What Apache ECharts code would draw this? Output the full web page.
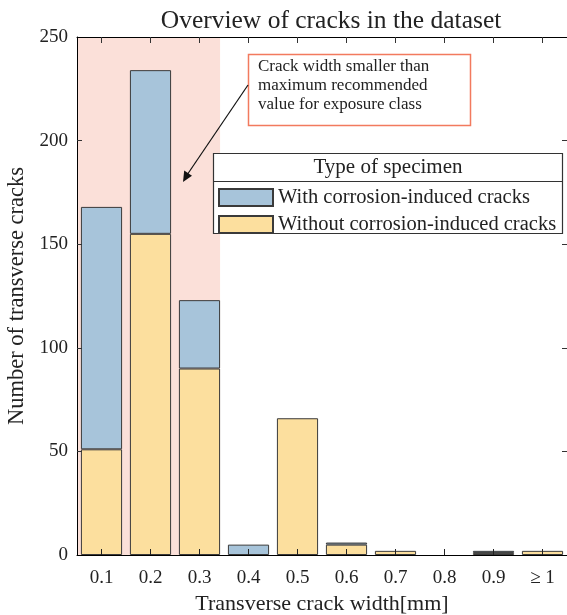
<!DOCTYPE html>
<html>
<head>
<meta charset="utf-8">
<script src="https://cdn.jsdelivr.net/npm/echarts@6/dist/echarts.min.js"></script>
<style>
html,body{margin:0;padding:0;background:#fff;}
#main{width:567px;height:615px;}
</style>
</head>
<body>
<div id="main"></div>
<script>
// ---- data ----
const categories = ['0.1','0.2','0.3','0.4','0.5','0.6','0.7','0.8','0.9','≥ 1'];
const withoutCorrosion = [51, 155, 90, 0, 66, 5, 2, 0, 1, 2];
const withCorrosion    = [117, 79, 33, 5, 0, 1, 0, 0, 1, 0];
const yTicks = [0, 50, 100, 150, 200, 250];
const highlightRange = [-0.5, 2.42]; // category-index units (to right edge of 0.3 bar)

const FONT = 'Liberation Serif';
const INK = '#222';
const EDGE = '#3a3a3a';
const noZero = arr => arr.map(v => v === 0 ? '-' : v);

const chart = echarts.init(document.getElementById('main'), null, {renderer: 'canvas'});

const option = {
  animation: false,
  backgroundColor: '#fff',
  textStyle: {fontFamily: FONT, color: INK},
  title: {
    text: 'Overview of cracks in the dataset',
    left: 326, top: 3, textAlign: 'center',
    textStyle: {fontFamily: FONT, fontSize: 25.5, fontWeight: 'normal', color: INK}
  },
  grid: {left: 77, right: 0, top: 37, bottom: 60, containLabel: false, outerBoundsMode: 'none'},
  legend: {
    data: ['With corrosion-induced cracks', 'Without corrosion-induced cracks'],
    orient: 'vertical',
    left: 218, top: 187, padding: 0,
    itemWidth: 54, itemHeight: 17, itemGap: 6,
    icon: 'rect',
    z: 10,
    textStyle: {fontFamily: FONT, fontSize: 20.5, color: INK},
    selectedMode: false
  },
  xAxis: [
    {
      type: 'category', data: categories, position: 'bottom', z: 6,
      axisLine: {onZero: false, lineStyle: {color: '#000', width: 1}},
      axisTick: {show: true, inside: true, alignWithLabel: true, length: 6, lineStyle: {color: '#222', width: 1}},
      axisLabel: {fontFamily: FONT, fontSize: 19, color: INK, margin: 14},
      name: 'Transverse crack width[mm]', nameLocation: 'middle', nameGap: 35,
      nameTextStyle: {fontFamily: FONT, fontSize: 22, color: INK}
    },
    {
      type: 'category', data: categories, position: 'top', z: 6,
      axisLine: {onZero: false, lineStyle: {color: '#000', width: 1}},
      axisTick: {show: true, inside: true, alignWithLabel: true, length: 6, lineStyle: {color: '#333', width: 1}},
      axisLabel: {show: false}
    },
    {
      type: 'value', min: -0.5, max: 9.5, show: false, position: 'top'
    }
  ],
  yAxis: [
    {
      type: 'value', min: 0, max: 250, interval: 50, position: 'left', z: 5,
      axisLine: {show: true, onZero: false, lineStyle: {color: '#000', width: 1}},
      axisTick: {show: true, inside: true, length: 5, lineStyle: {color: '#333'}},
      axisLabel: {fontFamily: FONT, fontSize: 19, color: INK, margin: 9,
        formatter: v => yTicks.includes(v) ? String(v) : ''},
      splitLine: {show: false},
      name: 'Number of transverse cracks', nameLocation: 'middle', nameGap: 43,
      nameTextStyle: {fontFamily: FONT, fontSize: 22.5, color: INK}
    },
    {
      type: 'value', min: 0, max: 250, interval: 50, position: 'right', z: 5,
      axisLine: {show: true, onZero: false, lineStyle: {color: '#000', width: 1}},
      axisTick: {show: true, inside: true, length: 5, lineStyle: {color: '#333'}},
      axisLabel: {show: false},
      splitLine: {show: false}
    }
  ],
  series: [
    {
      name: 'highlight', type: 'line', xAxisIndex: 2, yAxisIndex: 0, data: [],
      silent: true, z: 1,
      markArea: {
        silent: true,
        itemStyle: {color: '#fbe0d9', opacity: 1},
        data: [[{xAxis: highlightRange[0]}, {xAxis: highlightRange[1]}]]
      }
    },
    {
      name: 'Without corrosion-induced cracks', type: 'bar', stack: 'cracks',
      xAxisIndex: 0, yAxisIndex: 0, barWidth: '84%', z: 2,
      data: noZero(withoutCorrosion),
      itemStyle: {color: '#fcdf9e', borderColor: EDGE, borderWidth: 1}
    },
    {
      name: 'With corrosion-induced cracks', type: 'bar', stack: 'cracks',
      xAxisIndex: 0, yAxisIndex: 0, barWidth: '84%', z: 2,
      data: noZero(withCorrosion),
      itemStyle: {color: '#a7c4da', borderColor: EDGE, borderWidth: 1}
    },
    {
      // bottom axis tick marks drawn on top of the bars (MATLAB-style box ticks)
      name: 'bottomTicks', type: 'custom', xAxisIndex: 0, yAxisIndex: 0,
      silent: true, z: 6,
      data: categories.map((c, i) => [i, 0]),
      renderItem: (params, api) => {
        const p = api.coord([api.value(0), 0]);
        return {type: 'line', shape: {x1: p[0], y1: p[1], x2: p[0], y2: p[1] - 6},
          style: {stroke: '#222', lineWidth: 1}};
      }
    }
  ],
  graphic: [
    // legend box
    {type: 'rect', z: 8, shape: {x: 213.5, y: 153.5, width: 349, height: 80},
      style: {fill: '#fff', stroke: '#333', lineWidth: 1.2}},
    {type: 'line', z: 8, shape: {x1: 213.5, y1: 181.5, x2: 562.5, y2: 181.5},
      style: {stroke: '#333', lineWidth: 1}},
    {type: 'text', z: 9, style: {x: 388, y: 167, text: 'Type of specimen',
      fontFamily: FONT, fontSize: 21, fill: INK, align: 'center', verticalAlign: 'middle'}},
    // annotation box
    {type: 'rect', z: 8, shape: {x: 248.5, y: 54.5, width: 222, height: 71},
      style: {fill: '#fff', stroke: '#f27a5e', lineWidth: 1.5}},
    {type: 'text', z: 9, style: {x: 258, y: 57,
      text: 'Crack width smaller than\nmaximum recommended\nvalue for exposure class',
      fontFamily: FONT, fontSize: 17, lineHeight: 19, fill: INK}},
    // arrow
    {type: 'line', z: 9, shape: {x1: 248, y1: 85, x2: 187, y2: 175},
      style: {stroke: '#111', lineWidth: 1.2}},
    {type: 'polygon', z: 9, shape: {points: [[183, 182], [184.2, 170.5], [192.0, 175.8]]},
      style: {fill: '#111'}}
  ]
};

chart.setOption(option);
</script>
</body>
</html>
